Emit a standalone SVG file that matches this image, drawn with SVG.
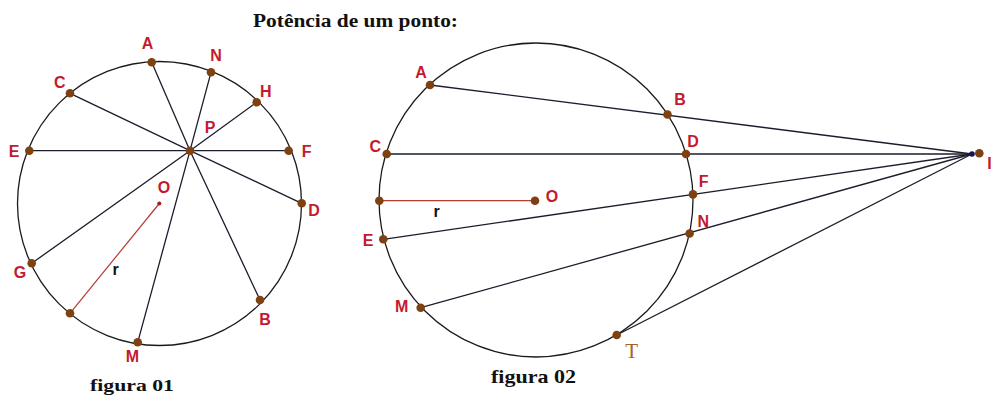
<svg xmlns="http://www.w3.org/2000/svg" width="995" height="396" viewBox="0 0 995 396">
<style>
.circ{fill:none;stroke:#1a1a1a;stroke-width:1.3}
.ln{fill:none;stroke:#1c1c2c;stroke-width:1.3}
.rad{fill:none;stroke:#b83a34;stroke-width:1.2}
.pt{fill:#7e4212}
.lbl{font-family:"Liberation Sans",Arial,sans-serif;font-weight:bold;font-size:16px;fill:#c41a30;text-anchor:middle}
.blk{fill:#111}
.cap{font-family:"Liberation Serif","Times New Roman",serif;font-weight:bold;fill:#111}
</style>
<rect width="995" height="396" fill="#fff"/>
<text class="cap" x="253" y="26.5" font-size="18" textLength="205" lengthAdjust="spacingAndGlyphs">Potência de um ponto:</text>

<g id="fig1">
<circle class="circ" cx="159.5" cy="203.5" r="142"/>
<g id="connectors1">
<path class="ln" d="M151.7 62.3 L190 150.7 L260 300"/>
<path class="ln" d="M211 72.3 L190 150.7 L137.7 342.3"/>
<path class="ln" d="M70 93.3 L190 150.7 L301.7 203.3"/>
<path class="ln" d="M29.3 150.7 L288.7 150.7"/>
<path class="ln" d="M256.7 102.3 L190 150.7 L31.7 263.3"/>
<path class="rad" d="M159.3 203.5 L70 313.3"/>
</g>
<g id="f1-A"><circle class="pt" cx="151.7" cy="62.3" r="4.3"/><text class="lbl" x="147.5" y="49.3">A</text></g>
<g id="f1-N"><circle class="pt" cx="211" cy="72.3" r="4.3"/><text class="lbl" x="216" y="60.7">N</text></g>
<g id="f1-C"><circle class="pt" cx="70" cy="93.3" r="4.3"/><text class="lbl" x="59.7" y="88.3">C</text></g>
<g id="f1-H"><circle class="pt" cx="256.7" cy="102.3" r="4.3"/><text class="lbl" x="265.8" y="96.7">H</text></g>
<g id="f1-P"><circle class="pt" cx="190" cy="150.7" r="4.3"/><text class="lbl" x="210" y="133">P</text></g>
<g id="f1-E"><circle class="pt" cx="29.3" cy="150.7" r="4.3"/><text class="lbl" x="14" y="156.7">E</text></g>
<g id="f1-F"><circle class="pt" cx="288.7" cy="150.7" r="4.3"/><text class="lbl" x="306.7" y="156.7">F</text></g>
<g id="f1-O"><circle cx="159.3" cy="203.5" r="2" fill="#b01818"/><text class="lbl" x="164" y="193">O</text></g>
<g id="f1-D"><circle class="pt" cx="301.7" cy="203.3" r="4.3"/><text class="lbl" x="314" y="216">D</text></g>
<g id="f1-G"><circle class="pt" cx="31.7" cy="263.3" r="4.3"/><text class="lbl" x="20" y="278">G</text></g>
<g id="f1-R"><circle class="pt" cx="70" cy="313.3" r="4.3"/><text class="lbl blk" x="115.5" y="275">r</text></g>
<g id="f1-B"><circle class="pt" cx="260" cy="300" r="4.3"/><text class="lbl" x="265" y="325">B</text></g>
<g id="f1-M"><circle class="pt" cx="137.7" cy="342.3" r="4.3"/><text class="lbl" x="132.5" y="362">M</text></g>
<text class="cap" x="90" y="391" font-size="17" textLength="84" lengthAdjust="spacingAndGlyphs">figura 01</text>
</g>

<g id="fig2">
<circle class="circ" cx="536" cy="200" r="157"/>
<g id="connectors2">
<path class="ln" d="M430 85 L972 154"/>
<path class="ln" d="M386.7 154 L972 154"/>
<path class="ln" d="M383.3 239.3 L972 154"/>
<path class="ln" d="M420.7 307.7 L972 154"/>
<path class="ln" d="M616.7 335 L972 154"/>
<path class="rad" d="M379.3 200.7 L535 200.7"/>
</g>
<g id="f2-A"><circle class="pt" cx="430" cy="85" r="4.3"/><text class="lbl" x="421" y="78.3">A</text></g>
<g id="f2-B"><circle class="pt" cx="667.5" cy="114.5" r="4.3"/><text class="lbl" x="680" y="105">B</text></g>
<g id="f2-C"><circle class="pt" cx="386.7" cy="154" r="4.3"/><text class="lbl" x="375.3" y="151.7">C</text></g>
<g id="f2-D"><circle class="pt" cx="686" cy="154" r="4.3"/><text class="lbl" x="693" y="146.7">D</text></g>
<g id="f2-R"><circle class="pt" cx="379.3" cy="200.7" r="4.3"/><text class="lbl blk" x="436.7" y="217.3">r</text></g>
<g id="f2-O"><circle class="pt" cx="535" cy="200.7" r="4.3"/><text class="lbl" x="552" y="201.7">O</text></g>
<g id="f2-F"><circle class="pt" cx="693" cy="194.4" r="4.3"/><text class="lbl" x="703.7" y="186.7">F</text></g>
<g id="f2-E"><circle class="pt" cx="383.3" cy="239.3" r="4.3"/><text class="lbl" x="368" y="246">E</text></g>
<g id="f2-N"><circle class="pt" cx="689.6" cy="233.5" r="4.3"/><text class="lbl" x="703.3" y="226.7">N</text></g>
<g id="f2-M"><circle class="pt" cx="420.7" cy="307.7" r="4.3"/><text class="lbl" x="401.7" y="311.7">M</text></g>
<g id="f2-T"><circle class="pt" cx="616.7" cy="335" r="4.3"/><text x="631.7" y="358.3" font-family="Liberation Serif,'Times New Roman',serif" font-size="21" fill="#a8602a" text-anchor="middle">T</text></g>
<g id="f2-I"><circle cx="972" cy="154" r="2.8" fill="#141450"/><circle class="pt" cx="979.3" cy="153.3" r="4.3"/><text class="lbl" x="989.5" y="169" text-anchor="start">I</text></g>
<text class="cap" x="491" y="383" font-size="19" textLength="85" lengthAdjust="spacingAndGlyphs">figura 02</text>
</g>
</svg>
